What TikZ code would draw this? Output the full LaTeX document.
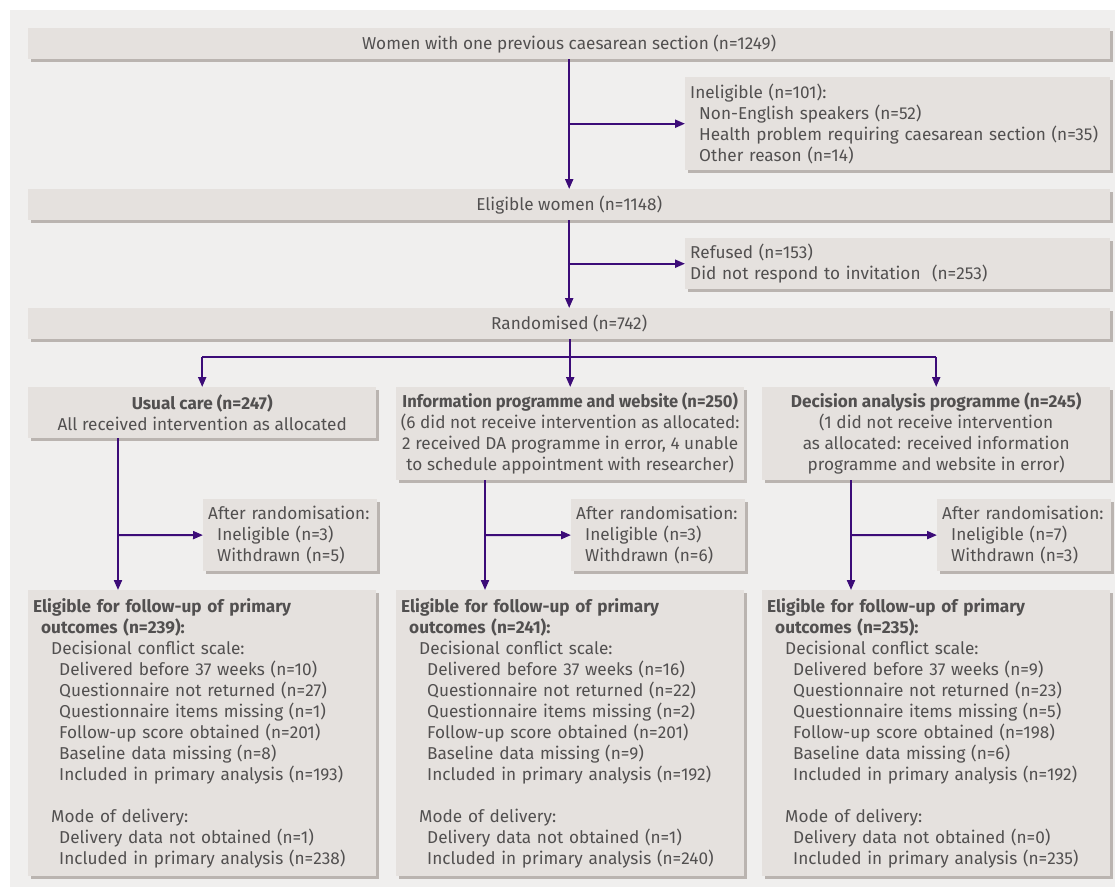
\documentclass[tikz,border=0pt]{standalone}
\usepackage{graphicx}
\usepackage{fontspec}
\setmainfont{Fira Sans}
\usetikzlibrary{arrows.meta,shadows}
\definecolor{pagegray}{RGB}{240,239,238}
\definecolor{boxfill}{RGB}{229,225,222}
\definecolor{boxshade}{RGB}{186,180,176}
\definecolor{textgray}{RGB}{82,80,80}
\definecolor{flowpurple}{RGB}{60,12,120}
\tikzstyle{box}=[rectangle,fill=boxfill,anchor=north west,inner xsep=5pt,inner ysep=0pt,
  drop shadow={shadow xshift=3pt,shadow yshift=-3pt,fill=boxshade,opacity=1},
  text=textgray,font=\fontsize{17.2}{21}\selectfont]
\tikzstyle{line} = [draw,flowpurple,line width=2pt]
\tikzstyle{flow} = [line,-{Triangle[length=10pt,width=8pt]}]

\begin{document}
\begin{tikzpicture}[x=1pt,y=-1pt]
      \useasboundingbox (0,0) rectangle (1115,887);
      \fill[white] (0,0) rectangle (1115,887);
      \fill[pagegray] (10,10) rectangle (1115,887);

      % screening
      \node[box,minimum width=1082pt,minimum height=31pt] (women) at (28,28)
        {Women with one previous caesarean section (n=1249)};
      \node[box,minimum width=425pt,minimum height=93pt,text width=415pt,align=left] (inel) at (685,77)
        {Ineligible (n=101):\\
         \hspace*{9pt}Non-English speakers (n=52)\\
         \hspace*{9pt}Health problem requiring caesarean section (n=35)\\
         \hspace*{9pt}Other reason (n=14)};
      \node[box,minimum width=1082pt,minimum height=31pt] (elig) at (28,189)
        {Eligible women (n=1148)};
      \node[box,minimum width=425pt,minimum height=51pt,text width=415pt,align=left] (refused) at (685,238)
        {Refused (n=153)\\
         Did not respond to invitation~ (n=253)};
      \node[box,minimum width=1082pt,minimum height=31pt] (rand) at (28,308)
        {Randomised (n=742)};

      \draw[flow] (women) -- (elig);
      \draw[flow] (women.south |- inel.west) -- (inel);
      \draw[flow] (elig) -- (rand);
      \draw[flow] (elig.south |- refused.west) -- (refused);

      % allocation
      \node[box,minimum width=348pt,minimum height=51pt,align=center] (alloc1) at (28,387)
        {\textbf{Usual care (n=247)}\\All received intervention as allocated};
      \node[box,minimum width=348pt,minimum height=93pt,inner xsep=3pt,align=center] (alloc2) at (396,387)
        {\scalebox{0.96}[1]{\textbf{Information programme and website (n=250)}}\\
         (6 did not receive intervention as allocated:\\
         2 received DA programme in error, 4 unable\\
         to schedule appointment with researcher)};
      \node[box,minimum width=348pt,minimum height=93pt,align=center] (alloc3) at (762,387)
        {\textbf{Decision analysis programme (n=245)}\\
         (1 did not receive intervention\\
         as allocated: received information\\
         programme and website in error)};

      \coordinate (split) at (570,357);
      \draw[line] (alloc1.north |- split) -- (alloc3.north |- split);
      \draw[line] (rand.south -| split) -- (split);
      \foreach \id in {1,2,3}{
        \draw[flow] (alloc\id.north |- split) -- (alloc\id.north);
      }

      % after randomisation
      \foreach \x/\id/\inelig/\wdrawn in {203/1/3/5,571/2/3/6,937/3/7/3}{
        \node[box,minimum width=174pt,minimum height=72pt,text width=164pt,align=left] (after\id) at (\x,499)
          {After randomisation:\\
           \hspace*{9pt}Ineligible (n=\inelig)\\
           \hspace*{9pt}Withdrawn (n=\wdrawn)};
      }

      % follow-up
      \foreach \x/\id/\total/\early/\noret/\items/\score/\base/\incl/\nodel/\incdel in
        {28/1/239/10/27/1/201/8/193/1/238,
         396/2/241/16/22/2/201/9/192/1/240,
         762/3/235/9/23/5/198/6/192/0/235}{
        \node[box,minimum width=348pt,minimum height=286pt,text width=338pt,align=left] (fu\id) at (\x,590)
          {\textbf{Eligible for follow-up of primary}\\
           \hspace*{8pt}\textbf{outcomes (n=\total):}\\
           \hspace*{18pt}Decisional conflict scale:\\
           \hspace*{26pt}Delivered before 37 weeks (n=\early)\\
           \hspace*{26pt}Questionnaire not returned (n=\noret)\\
           \hspace*{26pt}Questionnaire items missing (n=\items)\\
           \hspace*{26pt}Follow-up score obtained (n=\score)\\
           \hspace*{26pt}Baseline data missing (n=\base)\\
           \hspace*{26pt}Included in primary analysis (n=\incl)\\[21pt]
           \hspace*{18pt}Mode of delivery:\\
           \hspace*{26pt}Delivery data not obtained (n=\nodel)\\
           \hspace*{26pt}Included in primary analysis (n=\incdel)};
      }

      \foreach \x/\id in {118/1,485/2,851/3}{
        \coordinate (trunk\id) at (\x,535);
        \draw[flow] (alloc\id.south -| trunk\id) -- (fu\id.north -| trunk\id);
        \draw[flow] (trunk\id) -- (after\id);
      }

    \end{tikzpicture}
\end{document}
